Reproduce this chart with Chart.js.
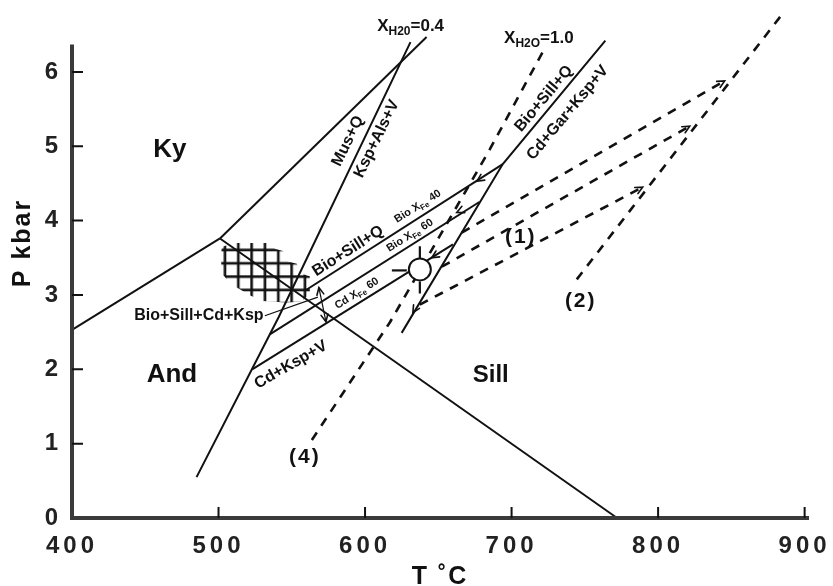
<!DOCTYPE html>
<html lang="en">
<head>
<meta charset="utf-8">
<title>P-T diagram</title>
<style>
  html, body { margin: 0; padding: 0; background: #fff; }
</style>
</head>
<body>
<canvas id="myChart" width="833" height="586"></canvas>
<script src="https://cdn.jsdelivr.net/npm/chart.js"></script>
<script>
// axis ticks and extents
const tempTicks = [400, 500, 600, 700, 800, 900];
const presTicks = [0, 1, 2, 3, 4, 5, 6];
const tempAxisEnd = 903;
const presAxisEnd = 6.37;

// reaction curves as [T degC, P kbar]
const kyAnd = [[400, 2.53], [501, 3.76]];
const kySill = [[501, 3.76], [642, 6.47]];
const andSill = [[501, 3.76], [772, 0]];
const musQ = [[485, 0.55], [541, 2.70], [631, 6.40]];
const bioFe40 = [[560, 3.07], [694, 4.76]];
const bioFe60 = [[535, 2.47], [678, 4.25]];
const cdFe60 = [[523, 2.0], [660, 3.68]];
const cdGar = [[625, 2.49], [694, 4.76], [764, 6.42]];
const leader = [[531.6, 2.72], [567.8, 2.97]];

// dashed paths
const xh2o10 = [[563.7, 1.05], [616.9, 2.63], [685.2, 4.96], [721.3, 6.27]];
const path2 = [[744.5, 3.21], [886.4, 6.82]];
const path1a = [[666, 3.84], [845.4, 5.88]];
const path1b = [[652.4, 3.38], [821.6, 5.27]];
const path1c = [[637.4, 2.87], [789.5, 4.45]];

// estimated P-T field (cross hatched) and the sample point
const hatchField = [[502.3, 3.65], [511.2, 3.70], [535.7, 3.70], [538.5, 3.62], [543.9, 3.59],
  [547.3, 3.45], [553.4, 3.42], [556.1, 3.29], [562.3, 3.25], [562.3, 3.01], [556.1, 2.91],
  [545.9, 2.90], [530.2, 2.92], [522.0, 2.99], [512.5, 3.10], [507.0, 3.18], [502.3, 3.29], [501.6, 3.52]];
const sample = [[637.4, 3.344]];
const spokes = [
  [[618.3, 3.33], [628.5, 3.33]],
  [[637.4, 3.654], [637.4, 3.49]],
  [[637.4, 3.18], [637.4, 3.02]]
];
const shiftBar = [[568.5, 3.10], [573.3, 2.64]];

// chevrons: tip T, tip P, tail T, tail P
const chevrons = [
  [845.4, 5.88, 666, 3.84],
  [821.6, 5.27, 652.4, 3.38],
  [789.5, 4.45, 637.4, 2.87],
  [676.3, 4.53, 694, 4.76],
  [662.6, 4.11, 678.3, 4.25],
  [645.5, 3.50, 660, 3.68],
  [632.6, 2.76, 694, 4.76],
  [568.5, 3.10, 573.3, 2.64],
  [573.3, 2.64, 568.5, 3.10]
];

// text placed on the diagram: text, T, P, size, rotation, spacing
const notes = [
  ['Ky', 466.8, 4.95, 26, 0, 0],
  ['And', 468.2, 1.93, 26, 0, 0],
  ['Sill', 685.8, 1.915, 24, 0, 0],
  ['Mus+Q', 588.3, 5.07, 16, -64, 0],
  ['Ksp+Als+V', 608.0, 5.10, 16, -64, 0],
  ['Bio+Sill+Q', 588.3, 3.59, 16, -32.5, 0],
  ['Bio+Sill+Q', 722.0, 5.64, 16, -50, 0],
  ['Cd+Gar+Ksp+V', 738.3, 5.45, 16, -50, 0],
  ['Cd+Ksp+V', 549.4, 2.06, 16, -30, 0],
  ['Bio+Sill+Cd+Ksp', 486.6, 2.72, 16, 0, 0],
  ['(1)', 705.6, 3.78, 21, 0, 2],
  ['(2)', 746.5, 2.91, 21, 0, 2],
  ['(4)', 558.3, 0.82, 21, 0, 2]
];
const subNotes = [
  ['Bio X', 'Fe', ' 40', 636.0, 4.19, 11, -32],
  ['Bio X', 'Fe', ' 60', 630.6, 3.80, 11, -32],
  ['Cd X', 'Fe', ' 60', 594.4, 3.02, 11, -32],
  ['X', 'H20', '=0.4', 631.1, 6.61, 17, 0],
  ['X', 'H2O', '=1.0', 718.6, 6.45, 17, 0]
];

const FONT = "'Liberation Sans', Arial, Helvetica, sans-serif";
const INK = '#111';

const pts = arr => arr.map(([x, y]) => ({x, y}));
function curve(arr, dashed, width) {
  return {
    data: pts(arr), showLine: true, borderColor: INK, borderWidth: width || 2,
    borderDash: dashed ? [9, 8] : [], pointRadius: 0, fill: false, clip: false, order: 5
  };
}

// cross hatch pattern
const tile = document.createElement('canvas');
tile.width = 40; tile.height = 40;
const tg = tile.getContext('2d');
tg.fillStyle = INK;
[6.67, 20, 33.33].forEach(v => { tg.fillRect(v - 1.3, 0, 2.6, 40); tg.fillRect(0, v - 1.3, 40, 2.6); });

const ctx = document.getElementById('myChart').getContext('2d');
const hatch = ctx.createPattern(tile, 'repeat');
hatch.setTransform(new DOMMatrix([1, 0, 0, 1, 218.3, 243.3]));

const datasets = [
  {data: pts(hatchField.concat([hatchField[0]])), showLine: true, borderWidth: 0, borderColor: 'rgba(0,0,0,0)',
    backgroundColor: hatch, fill: 'shape', pointRadius: 0, clip: false, order: 9},
  curve(kyAnd), curve(kySill), curve(andSill), curve(musQ),
  curve(bioFe40), curve(bioFe60), curve(cdFe60), curve(cdGar),
  curve(leader, false, 1.2), curve(shiftBar, false, 1.2),
  curve(xh2o10, true, 2.6), curve(path2, true, 2.6),
  curve(path1a, true, 2.6), curve(path1b, true, 2.6), curve(path1c, true, 2.6),
  ...spokes.map(s => curve(s, false, 2.2)),
  {data: pts(sample), pointRadius: 11, pointBackgroundColor: '#fff', pointBorderColor: INK,
    pointBorderWidth: 2, clip: false, order: 0}
];

const decor = {
  id: 'decor',
  beforeDraw(chart) { chart.ctx.letterSpacing = '4px'; },
  afterDatasetsDraw(chart) {
    const c = chart.ctx, X = chart.scales.x, Y = chart.scales.y;
    const px = v => X.getPixelForValue(v), py = v => Y.getPixelForValue(v);
    c.save();
    c.letterSpacing = '0px';
    // chevrons
    c.strokeStyle = INK; c.lineWidth = 1.6; c.lineCap = 'round';
    chevrons.forEach(([tx, tp, bx, bp]) => {
      const x0 = px(tx), y0 = py(tp);
      const a = Math.atan2(y0 - py(bp), x0 - px(bx));
      c.beginPath();
      c.moveTo(x0 - 8 * Math.cos(a - 0.45), y0 - 8 * Math.sin(a - 0.45));
      c.lineTo(x0, y0);
      c.lineTo(x0 - 8 * Math.cos(a + 0.45), y0 - 8 * Math.sin(a + 0.45));
      c.stroke();
    });
    // axes
    c.strokeStyle = '#3a3a3a'; c.lineWidth = 4; c.lineCap = 'butt';
    c.beginPath();
    c.moveTo(px(400), py(presAxisEnd));
    c.lineTo(px(400), py(0));
    c.lineTo(px(tempAxisEnd), py(0));
    c.stroke();
    c.strokeStyle = INK; c.lineWidth = 2;
    c.beginPath();
    presTicks.slice(1).forEach(v => { c.moveTo(px(400), py(v)); c.lineTo(px(400) + 11, py(v)); });
    tempTicks.slice(1).forEach(v => { c.moveTo(px(v), py(0)); c.lineTo(px(v), py(0) - 11); });
    c.stroke();
    // notes
    c.fillStyle = INK; c.textAlign = 'center'; c.textBaseline = 'middle';
    notes.forEach(([t, T, P, size, rot, sp]) => {
      c.save();
      c.translate(px(T), py(P));
      c.rotate(rot * Math.PI / 180);
      c.font = 'bold ' + size + 'px ' + FONT;
      c.letterSpacing = sp + 'px';
      c.fillText(t, sp / 2, 0);
      c.restore();
    });
    subNotes.forEach(([a, sub, b, T, P, size, rot]) => {
      c.save();
      c.translate(px(T), py(P));
      c.rotate(rot * Math.PI / 180);
      c.textAlign = 'left';
      const fMain = 'bold ' + size + 'px ' + FONT;
      const fSub = 'bold ' + Math.round(size * 0.72) + 'px ' + FONT;
      c.font = fMain; const wa = c.measureText(a).width, wb = c.measureText(b).width;
      c.font = fSub; const ws = c.measureText(sub).width;
      let x0 = -(wa + ws + wb) / 2;
      c.font = fMain; c.fillText(a, x0, 0); x0 += wa;
      c.font = fSub; c.fillText(sub, x0, size * 0.33); x0 += ws;
      c.font = fMain; c.fillText(b, x0, 0);
      c.restore();
    });
    // axis titles
    c.font = 'bold 25px ' + FONT;
    c.letterSpacing = '2px';
    c.save();
    c.translate(23, 243);
    c.rotate(-Math.PI / 2);
    c.fillText('P kbar', 0, 0);
    c.restore();
    c.fillText('T \u02DAC', 440, 577);
    c.restore();
  },
  afterDraw(chart) { chart.ctx.letterSpacing = '0px'; }
};

Chart.defaults.font.family = FONT;
new Chart(ctx, {
  type: 'scatter',
  data: {datasets},
  options: {
    responsive: false,
    devicePixelRatio: 1,
    animation: false,
    layout: {autoPadding: false, padding: {top: 5, right: 2, left: 0, bottom: 0}},
    plugins: {legend: {display: false}, tooltip: {enabled: false}},
    scales: {
      x: {
        type: 'linear', min: 400, max: 918,
        afterBuildTicks: s => { s.ticks = tempTicks.map(v => ({value: v})); },
        afterFit: s => { s.height = 68; s.paddingLeft = 0; s.paddingRight = 0; },
        grid: {display: false}, border: {display: false},
        ticks: {color: '#222', font: {size: 24, weight: 'bold'}, padding: 6, maxRotation: 0, autoSkip: false}
      },
      y: {
        type: 'linear', min: 0, max: 6.9,
        afterBuildTicks: s => { s.ticks = presTicks.map(v => ({value: v})); },
        afterFit: s => { s.width = 72; s.paddingTop = 0; s.paddingBottom = 0; },
        grid: {display: false}, border: {display: false},
        ticks: {color: '#222', font: {size: 24, weight: 'bold'}, padding: 2, autoSkip: false}
      }
    }
  },
  plugins: [decor]
});
</script>
</body>
</html>
